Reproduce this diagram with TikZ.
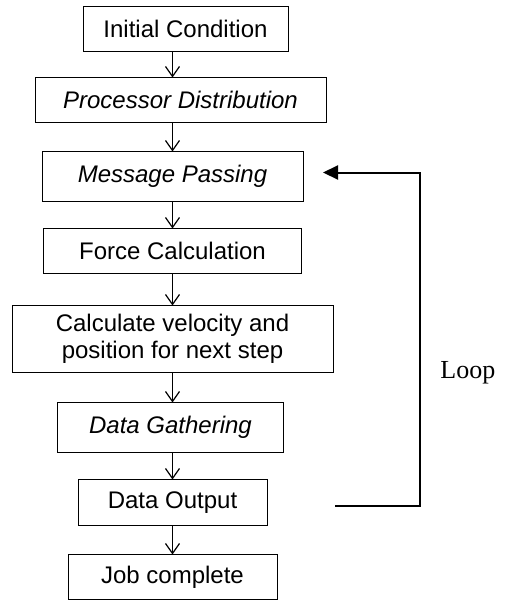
\documentclass[tikz,border=0pt]{standalone}
\usepackage{fontspec}
\setmainfont{Liberation Serif}
\setsansfont{Liberation Sans}
\usetikzlibrary{arrows.meta, positioning, calc}

\begin{document}
\begin{tikzpicture}[
    stage/.style={draw, line width=0.5pt, minimum height=22.5pt, inner sep=0pt, outer sep=0pt,
        font=\sffamily\fontsize{12pt}{13.5pt}\selectfont, align=center},
    flow/.style={-{Straight Barb[length=5pt, width=7pt]}, line width=0.6pt},
    loopflow/.style={-{Triangle[length=7.5pt, width=7pt]}, line width=1pt},
]
\useasboundingbox (0,0) rectangle (253.5pt,-300.5pt);

% ---- pipeline of stages ----
\node[stage, minimum width=102.5pt] (init) at (92.75pt,-14.5pt) {Initial Condition};
\node[stage, minimum width=145.5pt, below=13pt of init, xshift=-2.5pt] (proc) {\itshape Processor Distribution};
\node[stage, minimum width=130.5pt, minimum height=25pt, below=14.5pt of proc, xshift=-4pt] (msg) {\itshape Message Passing};
\node[stage, minimum width=129pt, below=13.5pt of msg] (force) {Force Calculation};
\node[stage, minimum width=160.5pt, minimum height=33.5pt, below=16pt of force] (calc)
    {Calculate velocity and\\position for next step};
\node[stage, minimum width=113pt, minimum height=25pt, below=15pt of calc, xshift=-1pt] (gather) {\itshape Data Gathering};
\node[stage, minimum width=94.5pt, minimum height=23pt, below=13.5pt of gather, xshift=1pt] (dout) {Data Output};
\node[stage, minimum width=104.5pt, below=14.5pt of dout] (job) {Job complete};

% ---- arrows between stages ----
\draw[flow] (init.south -| msg) -- (proc.north -| msg);
\draw[flow] (proc.south -| msg) -- (msg.north);
\draw[flow] (msg.south) -- (force.north);
\draw[flow] (force.south) -- (calc.north);
\draw[flow] (calc.south) -- (gather.north -| msg);
\draw[flow] (gather.south -| msg) -- (dout.north);
\draw[flow] (dout.south) -- (job.north);

% ---- loop back to message passing ----
\coordinate (loopstart) at ($(dout.east)+(34pt,-1.5pt)$);
\coordinate (looptip) at ($(msg.east)+(10pt,2pt)$);
\draw[loopflow] (loopstart) -- ++(42.5pt,0) |- (looptip);
\node[font=\rmfamily\fontsize{13pt}{15pt}\selectfont, anchor=west, inner sep=0pt] (looplbl)
    at (220pt,-186.5pt) {Loop};

\end{tikzpicture}
\end{document}
